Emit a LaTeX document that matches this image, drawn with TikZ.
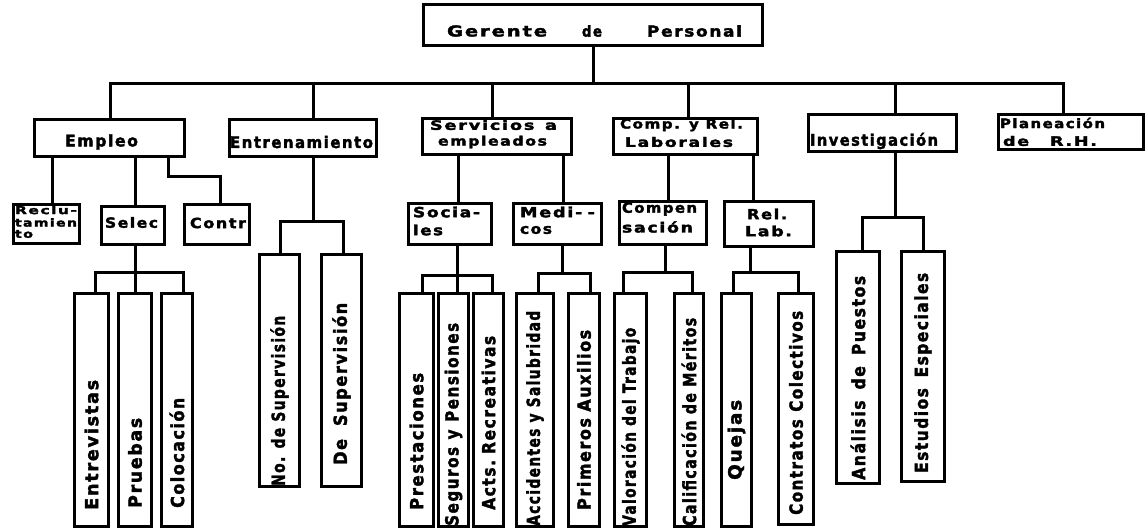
\documentclass[tikz,border=0pt]{standalone}
\usepackage{fontspec}
\usepackage{graphicx}
\newfontfamily\orgfont[LetterSpace=10,FakeBold=2.2]{DejaVu Sans Bold}
\tikzset{
  box/.style={draw, line width=3pt, inner sep=0pt, anchor=north west},
  conn/.style={line width=3pt},
  hlt/.style={inner sep=0pt, font=\orgfont\fontsize{15}{16}\selectfont},
  hl/.style={inner sep=0pt, font=\orgfont\fontsize{16}{17}\selectfont},
  hl2/.style={inner sep=0pt, font=\orgfont\fontsize{13}{14}\selectfont},
  hls/.style={inner sep=0pt, font=\orgfont\fontsize{14}{15}\selectfont},
  hlx/.style={inner sep=0pt, font=\orgfont\fontsize{11}{12}\selectfont},
  vt/.style={inner sep=0pt, rotate=90, anchor=west, font=\orgfont\fontsize{18}{19}\selectfont},
}
\newcommand\bx[5]{\node[box, minimum width={#4-#2}, minimum height={#5-#3}] (#1) at (#2,#3) {};}
\newcommand\tx[6][hl]{\node[#1] (#2) at (#3,#4) {\resizebox{#5pt}{\height}{#6}};}
\newcommand\vb[8]{\bx{#1}{#2}{#3}{#4}{#5}\node[vt] (#1-t) at ([yshift={#5-#6}]#1.south) {\resizebox{#7pt}{\height}{#8}};}
\begin{document}
\begin{tikzpicture}[x=1pt,y=-1pt]
\useasboundingbox (0,0) rectangle (1147,529);
% level 1 and 2 boxes
\bx{ger}{422}{3}{761}{44}
\bx{emp}{33}{118}{183}{155}
\bx{ent}{228}{118}{375}{155}
\bx{ser}{421}{117}{570}{153}
\bx{com}{612}{117}{756}{153}
\bx{inv}{807}{113}{955}{150}
\bx{pla}{997}{113}{1142}{148}
% level 3 boxes
\bx{rec}{12}{203}{78}{242}
\bx{sel}{100}{205}{163}{243}
\bx{con}{183}{203}{248}{243}
\bx{soc}{407}{202}{490}{243}
\bx{med}{512}{202}{600}{243}
\bx{cmp}{618}{200}{705}{243}
\bx{rel}{723}{200}{812}{245}
% vertical boxes
\vb{entv}{73}{292}{107}{525}{507}{130}{Entrevistas}
\vb{prue}{117}{292}{150}{525}{505}{90}{Pruebas}
\vb{colo}{160}{292}{191}{525}{505}{110}{Colocación}
\vb{nosup}{258}{253}{298}{485}{483}{170}{No. de Supervisión}
\vb{desup}{320}{253}{360}{485}{462}{162}{De\hspace{0.8em}Supervisión}
\vb{pres}{398}{292}{432}{525}{507}{137}{Prestaciones}
\vb{seg}{437}{292}{467}{525}{523}{203}{Seguros\hspace{0.5em}y\hspace{0.5em}Pensiones}
\vb{acts}{472}{292}{502}{525}{507}{174}{Acts.\hspace{0.4em}Recreativas}
\vb{acc}{515}{292}{552}{525}{523}{215}{Accidentes y Salubridad}
\vb{prim}{567}{292}{598}{525}{507}{180}{Primeros\hspace{0.4em}Auxilios}
\vb{val}{613}{292}{645}{525}{523}{198}{Valoración del Trabajo}
\vb{cal}{673}{292}{702}{525}{523}{208}{Calificación de Méritos}
\vb{que}{720}{292}{750}{525}{477}{80}{Quejas}
\vb{cont}{777}{292}{812}{523}{512}{204}{Contratos\hspace{0.5em}Colectivos}
\vb{ana}{835}{250}{878}{482}{477}{204}{Análisis\hspace{0.7em}de\hspace{0.7em}Puestos}
\vb{est}{900}{250}{943}{480}{470}{200}{Estudios\hspace{0.7em}Especiales}
% texts
\tx[hlt]{t-ger1}{497}{31}{100}{Gerente}
\tx[hlt]{t-ger2}{592}{31}{20}{de}
\tx[hlt]{t-ger3}{694.5}{31}{95}{Personal}
\tx{t-emp}{101.5}{142}{73}{Empleo}
\tx{t-ent}{301.5}{142}{143}{Entrenamiento}
\tx[hl2]{t-ser1}{493.5}{125}{127}{Servicios\hspace{0.6em}a}
\tx[hl2]{t-ser2}{492.5}{142}{109}{empleados}
\tx[hl2]{t-com1}{681.5}{125}{123}{Comp. y Rel.}
\tx[hl2]{t-com2}{679}{142}{108}{Laborales}
\tx{t-inv}{874}{141}{128}{Investigación}
\tx[hl2]{t-pla1}{1052.5}{123}{105}{Planeación}
\tx[hl2]{t-pla2}{1050}{141}{94}{de\hspace{1.2em}R.H.}
\tx[hlx]{t-rec1}{46}{210}{62}{Reclu-}
\tx[hlx]{t-rec2}{46}{222.5}{62}{tamien}
\tx[hlx]{t-rec3}{24}{234}{18}{to}
\tx[hls]{t-sel}{131.5}{222.5}{53}{Selec}
\tx[hls]{t-con}{218}{223}{56}{Contr}
\tx[hls]{t-soc1}{446.5}{212}{67}{Socia-}
\tx[hls]{t-soc2}{428}{230}{30}{les}
\tx[hls]{t-med1}{557.5}{212}{75}{Medi-\hspace{0.3em}-}
\tx[hls]{t-med2}{536}{230}{32}{cos}
\tx[hls]{t-cmp1}{659.5}{209}{75}{Compen}
\tx[hls]{t-cmp2}{657.5}{227}{71}{sación}
\tx[hls]{t-rel1}{767}{214}{40}{Rel.}
\tx[hls]{t-rel2}{768.5}{231}{47}{Lab.}
% connectors level 1 -> 2
\draw[conn] (ger.south) -- (ger.south |- 0,84);
\draw[conn] (emp.north -| 110,0) -- (110,84) -- (1063,84) -- (pla.north -| 1063,0);
\draw[conn] (ent.north -| 313,0) -- (313,84);
\draw[conn] (ser.north -| 492,0) -- (492,84);
\draw[conn] (com.north -| 688,0) -- (688,84);
\draw[conn] (inv.north -| 895,0) -- (895,84);
% Empleo
\draw[conn] (emp.south -| 52,0) -- (rec.north -| 52,0);
\draw[conn] (emp.south -| 135,0) -- (sel.north -| 135,0);
\draw[conn] (emp.south -| 168,0) -- (168,177) -- (220,177) -- (con.north -| 220,0);
\draw[conn] (sel.south -| 135,0) -- (prue.north -| 135,0);
\draw[conn] (entv.north -| 95,0) -- (95,272) -- (183,272) -- (colo.north -| 183,0);
% Entrenamiento
\draw[conn] (ent.south -| 313,0) -- (313,222);
\draw[conn] (nosup.north -| 280,0) -- (280,222) -- (343,222) -- (desup.north -| 343,0);
% Servicios
\draw[conn] (ser.south -| 458,0) -- (soc.north -| 458,0);
\draw[conn] (ser.south -| 563,0) -- (med.north -| 563,0);
\draw[conn] (soc.south -| 457,0) -- (seg.north -| 457,0);
\draw[conn] (pres.north -| 422,0) -- (422,275) -- (492,275) -- (acts.north -| 492,0);
\draw[conn] (med.south -| 562,0) -- (562,273);
\draw[conn] (acc.north -| 538,0) -- (538,273) -- (590,273) -- (prim.north -| 590,0);
% Comp
\draw[conn] (com.south -| 668,0) -- (cmp.north -| 668,0);
\draw[conn] (com.south -| 753,0) -- (rel.north -| 753,0);
\draw[conn] (cmp.south -| 665,0) -- (665,272);
\draw[conn] (val.north -| 623,0) -- (623,272) -- (692,272) -- (cal.north -| 692,0);
\draw[conn] (rel.south -| 750,0) -- (750,272);
\draw[conn] (que.north -| 733,0) -- (733,272) -- (798,272) -- (cont.north -| 798,0);
% Investigacion
\draw[conn] (inv.south -| 895,0) -- (895,218);
\draw[conn] (ana.north -| 862,0) -- (862,218) -- (923,218) -- (est.north -| 923,0);
\end{tikzpicture}
\end{document}
